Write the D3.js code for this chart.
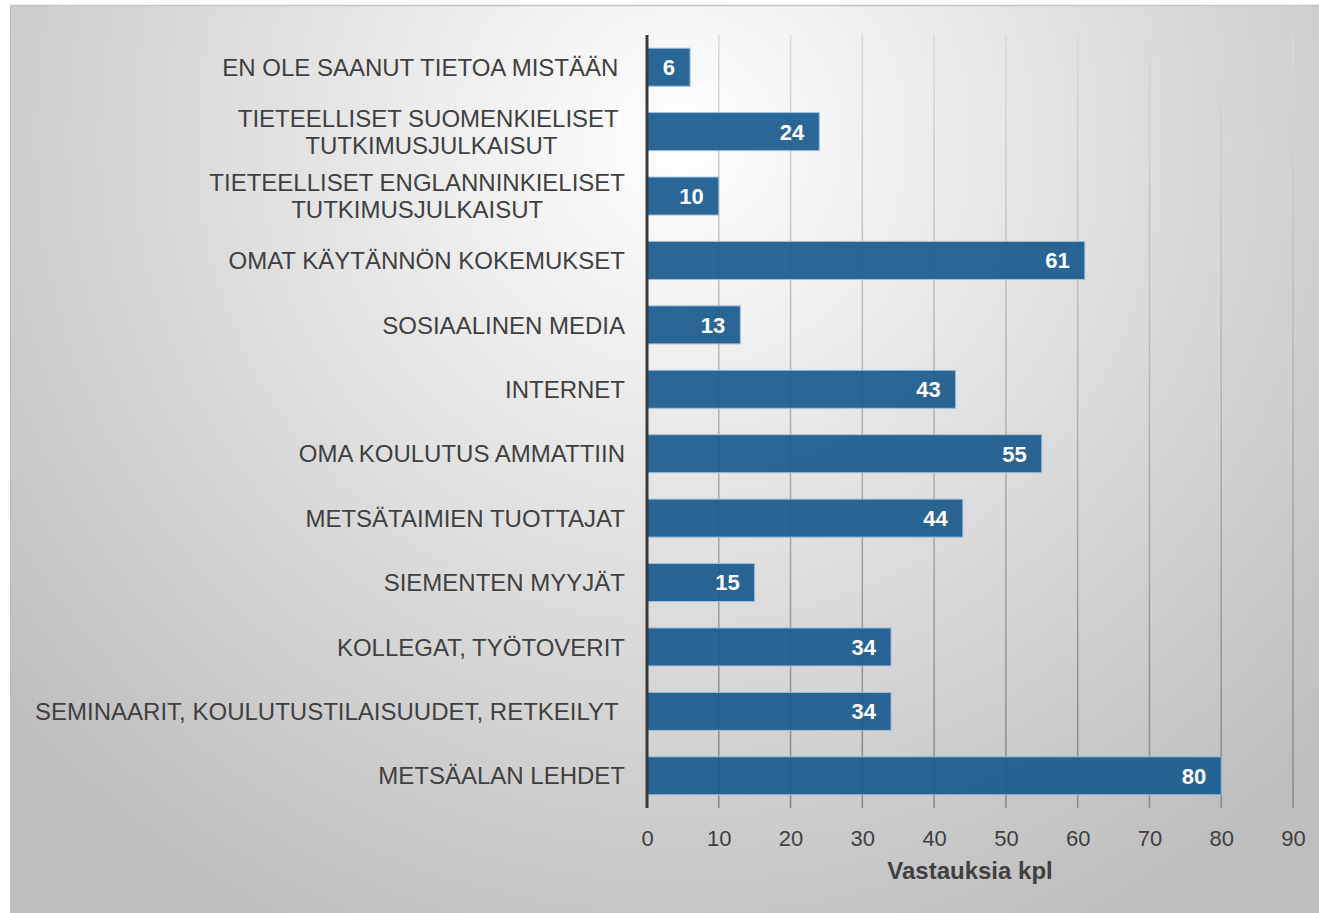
<!DOCTYPE html>
<html>
<head>
<meta charset="utf-8">
<script src="https://cdn.jsdelivr.net/npm/d3@7"></script>
<style>
  body { margin: 0; background: #fff; }
  text { font-family: "Liberation Sans", Arial, sans-serif; white-space: pre; }
</style>
</head>
<body>
<div id="chart"></div>
<script>
// categories, top to bottom (multi-line labels split with |)
const categories = [
  "EN OLE SAANUT TIETOA MISTÄÄN ",
  "TIETEELLISET SUOMENKIELISET |TUTKIMUSJULKAISUT",
  "TIETEELLISET ENGLANNINKIELISET|TUTKIMUSJULKAISUT",
  "OMAT KÄYTÄNNÖN KOKEMUKSET",
  "SOSIAALINEN MEDIA",
  "INTERNET",
  "OMA KOULUTUS AMMATTIIN",
  "METSÄTAIMIEN TUOTTAJAT",
  "SIEMENTEN MYYJÄT",
  "KOLLEGAT, TYÖTOVERIT",
  "SEMINAARIT, KOULUTUSTILAISUUDET, RETKEILYT ",
  "METSÄALAN LEHDET"
];
const values = [6, 24, 10, 61, 13, 43, 55, 44, 15, 34, 34, 80];
const xTicks = [0, 10, 20, 30, 40, 50, 60, 70, 80, 90];
const axisTitle = "Vastauksia kpl";

const W = 1319, H = 913;
const margin = { top: 35, right: 26, bottom: 105, left: 647 };

const svg = d3.select("#chart").append("svg")
    .attr("width", W)
    .attr("height", H);

const defs = svg.append("defs");
const bg = defs.append("radialGradient")
    .attr("id", "bg")
    .attr("gradientUnits", "userSpaceOnUse")
    .attr("cx", 680).attr("cy", 140).attr("r", 880);
bg.append("stop").attr("offset", 0).attr("stop-color", "#ffffff");
bg.append("stop").attr("offset", 1).attr("stop-color", "#bebebe");

const gridGrad = defs.append("linearGradient")
    .attr("id", "gridGrad")
    .attr("gradientUnits", "userSpaceOnUse")
    .attr("x1", 0).attr("y1", margin.top).attr("x2", 0).attr("y2", H - margin.bottom + 3);
gridGrad.append("stop").attr("offset", 0).attr("stop-color", "#dadada");
gridGrad.append("stop").attr("offset", 1).attr("stop-color", "#858585");

// background frame
svg.append("rect")
    .attr("x", 10).attr("y", 5)
    .attr("width", W - 10).attr("height", H - 5)
    .attr("fill", "url(#bg)");
svg.append("line")
    .attr("x1", 10).attr("x2", W).attr("y1", 5.5).attr("y2", 5.5)
    .attr("stroke", "#c4c4c4").attr("stroke-width", 1.5);
svg.append("line")
    .attr("x1", 10.5).attr("x2", 10.5).attr("y1", 5).attr("y2", H)
    .attr("stroke", "#bcbcbc").attr("stroke-width", 1);

const width = W - margin.left - margin.right,
      height = H - margin.top - margin.bottom;

const x = d3.scaleLinear().domain([0, 90]).range([margin.left, margin.left + width]);
const y = d3.scaleBand().domain(categories).range([margin.top, margin.top + height]).paddingInner(0.41).paddingOuter(0.205);

// gridlines
svg.append("g")
    .selectAll("line")
    .data(xTicks.filter(d => d > 0))
    .enter()
    .append("line")
    .attr("x1", d => x(d)).attr("x2", d => x(d))
    .attr("y1", margin.top).attr("y2", margin.top + height)
    .attr("stroke", "url(#gridGrad)")
    .attr("stroke-width", 1.5);

// bars
svg.append("g")
    .selectAll("rect")
    .data(values)
    .enter()
    .append("rect")
    .attr("x", x(0))
    .attr("y", (d, i) => y(categories[i]))
    .attr("width", d => x(d) - x(0))
    .attr("height", y.bandwidth())
    .attr("fill", "#1a5a8e")
    .attr("fill-opacity", 0.93)
    .attr("stroke", "#9fc0e0")
    .attr("stroke-width", 1);

// value labels
svg.append("g")
    .selectAll("text")
    .data(values)
    .enter()
    .append("text")
    .attr("x", d => x(d) - 15)
    .attr("y", (d, i) => y(categories[i]) + y.bandwidth() / 2)
    .attr("dy", "0.36em")
    .attr("text-anchor", "end")
    .attr("font-size", "22px")
    .attr("font-weight", "bold")
    .attr("fill", "#ffffff")
    .text(d => d);

// category labels
const labels = svg.append("g")
    .selectAll("text")
    .data(categories)
    .enter()
    .append("text")
    .attr("font-size", "24px")
    .attr("fill", "#404040");

labels.each(function (d) {
    const lines = d.split("|");
    const t = d3.select(this);
    const cy = y(d) + y.bandwidth() / 2;
    if (lines.length === 1) {
        t.attr("x", margin.left - 22).attr("y", cy).attr("dy", "0.36em")
            .attr("text-anchor", "end").text(lines[0]);
    } else {
        // centred block, right aligned to the axis
        t.attr("text-anchor", "middle");
        lines.forEach((l, k) => {
            t.append("tspan").attr("y", cy + (k - (lines.length - 1) / 2) * 27).attr("dy", "0.36em").text(l);
        });
        const w = d3.max(t.selectAll("tspan").nodes(), n => n.getComputedTextLength());
        t.selectAll("tspan").attr("x", margin.left - 22 - w / 2);
    }
});

// x axis
const xAxis = svg.append("g")
    .attr("transform", "translate(0," + (margin.top + height) + ")")
    .call(d3.axisBottom(x).tickValues(xTicks).tickSize(0).tickPadding(22));
xAxis.select(".domain").remove();
xAxis.selectAll("text")
    .attr("font-size", "22px")
    .attr("fill", "#404040");

// left axis line
svg.append("line")
    .attr("x1", x(0)).attr("x2", x(0))
    .attr("y1", margin.top).attr("y2", margin.top + height)
    .attr("stroke", "#3a3a3a")
    .attr("stroke-width", 3);

// axis title
svg.append("text")
    .attr("x", x(45))
    .attr("y", 879)
    .attr("text-anchor", "middle")
    .attr("font-size", "24px")
    .attr("font-weight", "bold")
    .attr("fill", "#404040")
    .text(axisTitle);
</script>
</body>
</html>
